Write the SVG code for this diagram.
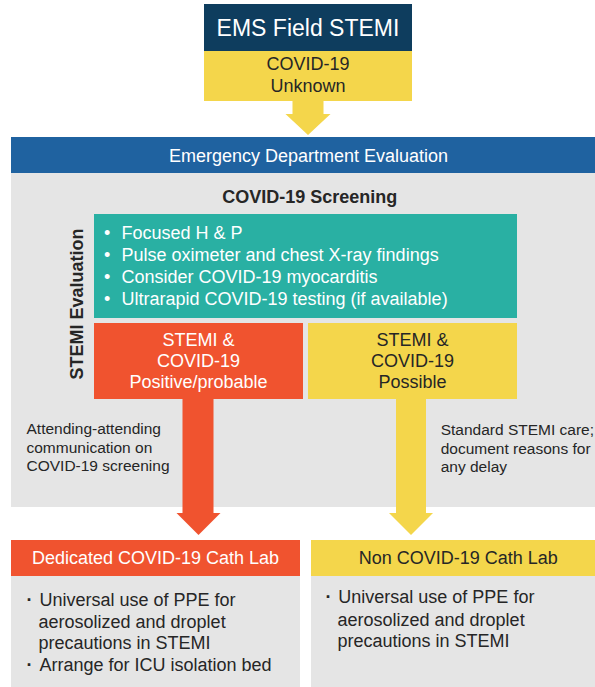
<svg xmlns="http://www.w3.org/2000/svg" width="595" height="687" viewBox="0 0 595 687">
<style>
text{font-family:"Liberation Sans",Arial,sans-serif;}
.w{fill:#ffffff;}
.d{fill:#262626;}
.f18{font-size:18px;}
.f23{font-size:23px;}
.f15{font-size:15.5px;}
.b{font-weight:bold;}
.mid{text-anchor:middle;}
.navy{fill:#0E3D5E;}
.yel{fill:#F4D64B;}
.blue{fill:#1F62A0;}
.gray{fill:#E5E5E5;}
.teal{fill:#29B0A3;}
.red{fill:#F0532F;}
</style>
<rect x="0" y="0" width="595" height="687" fill="#ffffff"/>
<g id="ed-eval">
<rect class="gray" x="11" y="173" width="584" height="334"/>
<rect class="blue" x="11" y="137" width="584" height="36"/>
<text class="w f18 mid" x="308.5" y="162">Emergency Department Evaluation</text>
<text class="d f18 b mid" x="309.7" y="203.3">COVID-19 Screening</text>
<text class="d f18 b mid" transform="translate(83,304) rotate(-90)">STEMI Evaluation</text>
</g>
<g id="connectors">
<polygon class="yel" points="292.5,101 323.5,101 323.5,114 330.5,114 308,135 285.5,114 292.5,114"/>
<polygon class="red" points="182.5,399 213.5,399 213.5,513 220.5,513 198.5,535 176.5,513 182.5,513"/>
<polygon class="yel" points="396,399 426,399 426,513 433,513 411,535 389,513 396,513"/>
</g>
<g id="ems">
<rect class="navy" x="204" y="4" width="208" height="47"/>
<text class="w f23 mid" x="308" y="36">EMS Field STEMI</text>
<rect class="yel" x="204" y="51" width="208" height="50"/>
<text class="d f18 mid" x="308" y="70">COVID-19</text>
<text class="d f18 mid" x="308" y="92">Unknown</text>
</g>
<g id="stemi-eval">
<rect class="teal" x="94" y="214" width="423" height="104"/>
<g class="w f18">
<text x="104" y="239">•</text><text x="121.5" y="239">Focused H &amp; P</text>
<text x="104" y="261">•</text><text x="121.5" y="261">Pulse oximeter and chest X-ray findings</text>
<text x="104" y="283">•</text><text x="121.5" y="283">Consider COVID-19 myocarditis</text>
<text x="104" y="305">•</text><text x="121.5" y="305">Ultrarapid COVID-19 testing (if available)</text>
</g>
</g>
<g id="positive">
<rect class="red" x="94" y="323" width="209" height="76"/>
<text class="w f18 mid" x="198.5" y="346">STEMI &amp;</text>
<text class="w f18 mid" x="198.5" y="367">COVID-19</text>
<text class="w f18 mid" x="198.5" y="388">Positive/probable</text>
</g>
<g id="possible">
<rect class="yel" x="308" y="323" width="209" height="76"/>
<text class="d f18 mid" x="412.5" y="346">STEMI &amp;</text>
<text class="d f18 mid" x="412.5" y="367">COVID-19</text>
<text class="d f18 mid" x="412.5" y="388">Possible</text>
</g>
<g id="note-left" class="d f15">
<text x="26.5" y="434">Attending-attending</text>
<text x="26.5" y="452.5">communication on</text>
<text x="26.5" y="471">COVID-19 screening</text>
</g>
<g id="note-right" class="d f15">
<text x="440.7" y="435">Standard STEMI care;</text>
<text x="440.7" y="453.5">document reasons for</text>
<text x="440.7" y="472">any delay</text>
</g>
<g id="covid-lab">
<rect class="gray" x="11" y="576" width="289" height="111"/>
<rect class="red" x="11" y="540" width="289" height="36"/>
<text class="w f18 mid" x="155.5" y="564.3">Dedicated COVID-19 Cath Lab</text>
<g class="d f18">
<text class="b" x="26.5" y="605.7">·</text><text x="39.5" y="605.7">Universal use of PPE for</text>
<text x="38.5" y="627.7">aerosolized and droplet</text>
<text x="38.5" y="649.3">precautions in STEMI</text>
<text class="b" x="26.5" y="671">·</text><text x="39.5" y="671">Arrange for ICU isolation bed</text>
</g>
</g>
<g id="noncovid-lab">
<rect class="gray" x="311" y="576" width="284" height="111"/>
<rect class="yel" x="311" y="540" width="284" height="36"/>
<text class="d f18 mid" x="458.3" y="564.3">Non COVID-19 Cath Lab</text>
<g class="d f18">
<text class="b" x="325.5" y="603.3">·</text><text x="338.3" y="603.3">Universal use of PPE for</text>
<text x="337.5" y="625.7">aerosolized and droplet</text>
<text x="337.5" y="646.7">precautions in STEMI</text>
</g>
</g>
</svg>
